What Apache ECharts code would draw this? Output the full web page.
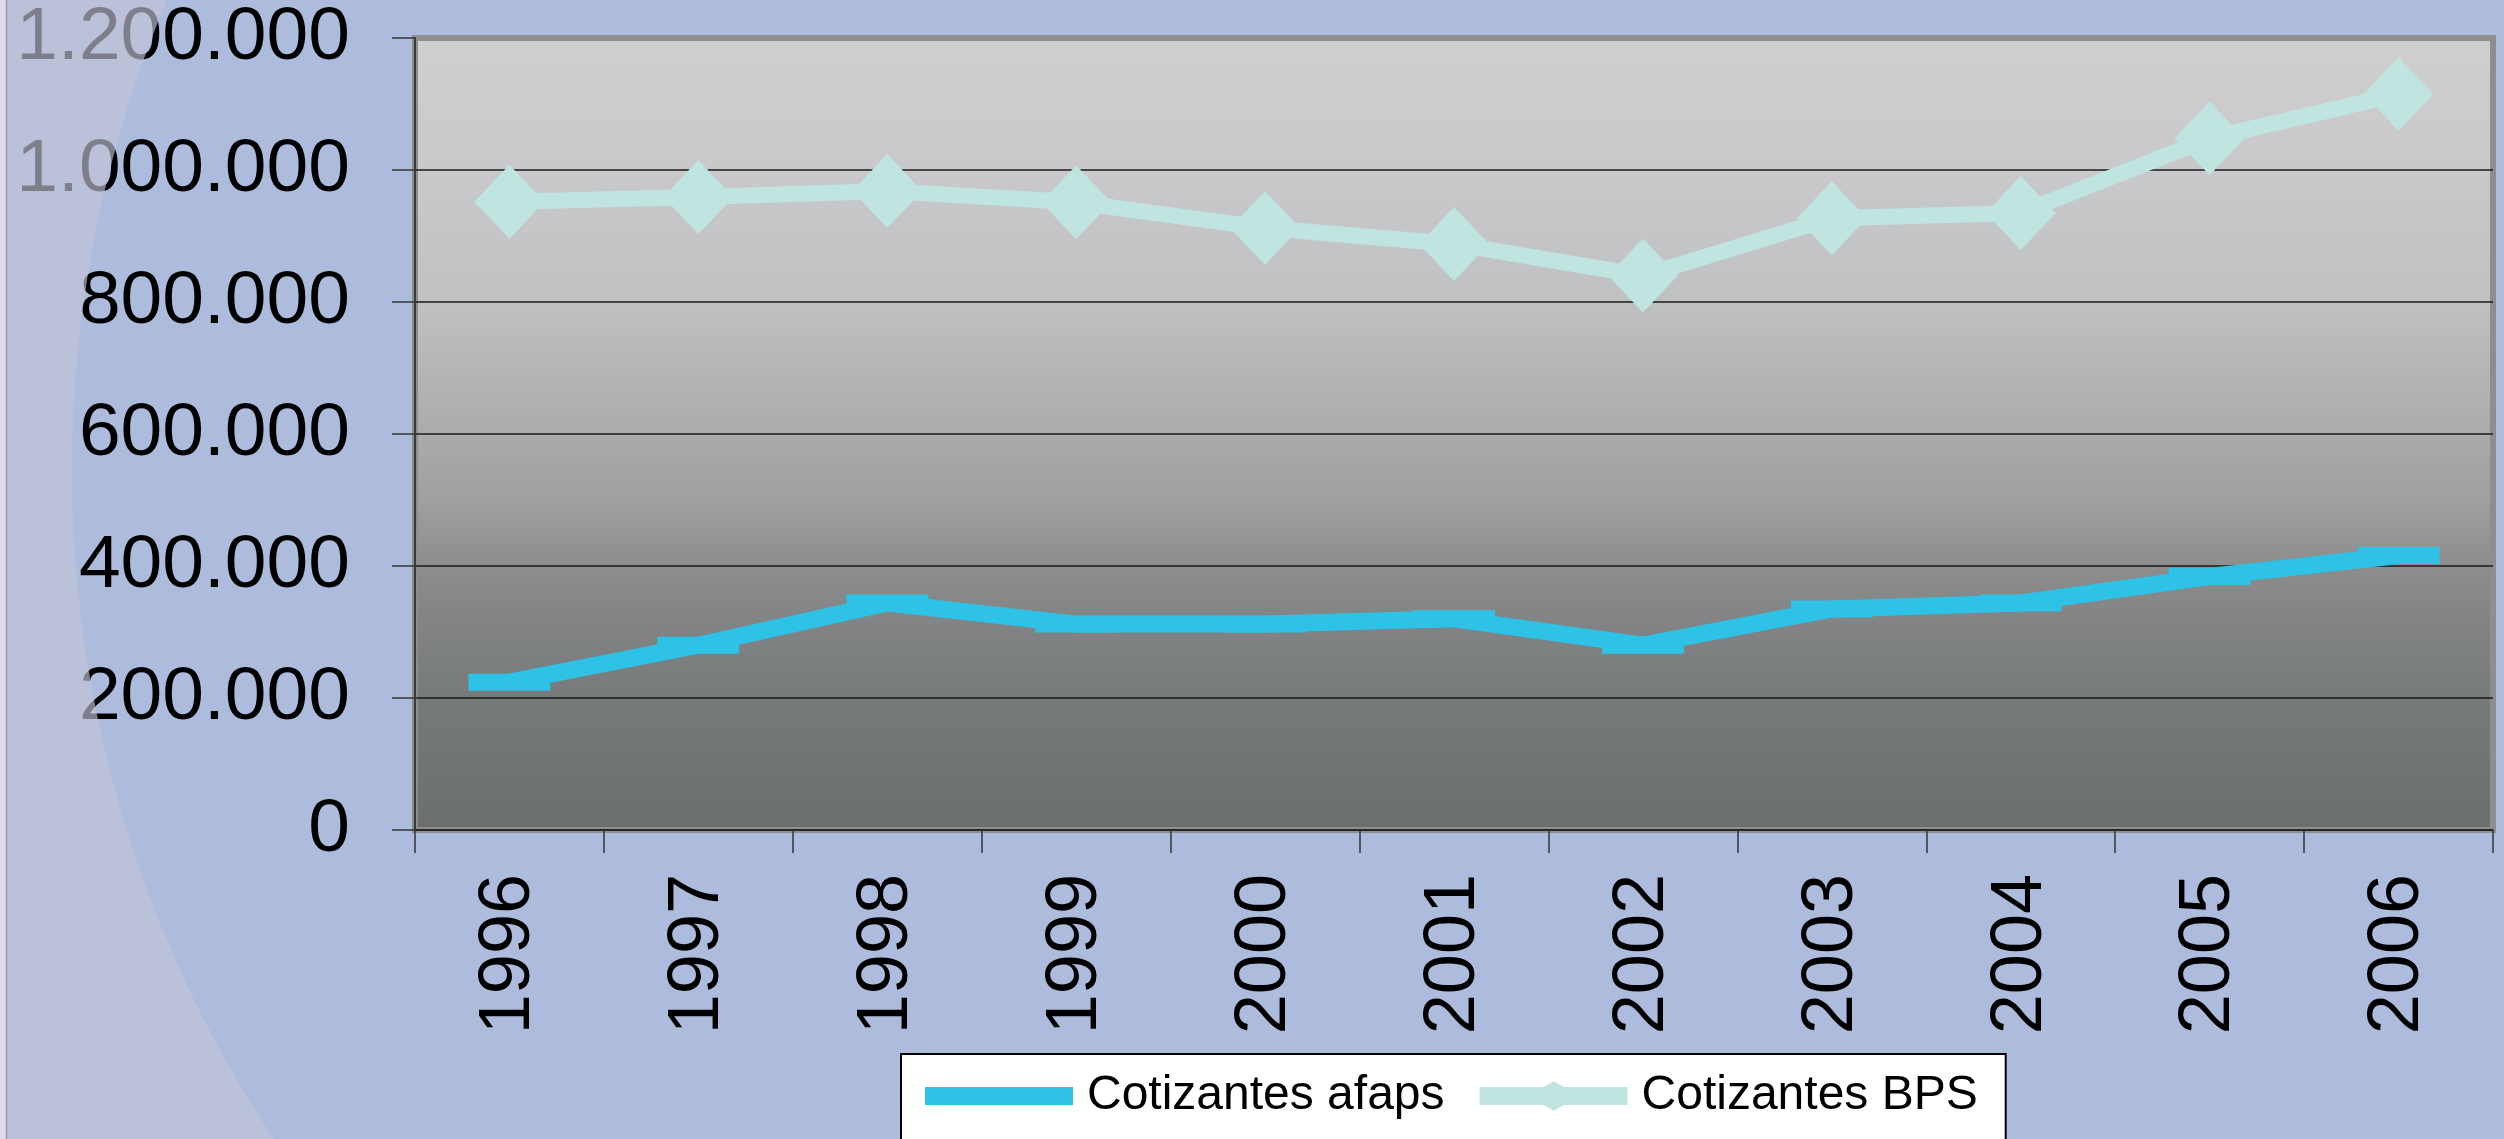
<!DOCTYPE html>
<html>
<head>
<meta charset="utf-8">
<script src="https://cdn.jsdelivr.net/npm/echarts@6/dist/echarts.min.js"></script>
<style>
  html, body { margin: 0; padding: 0; background: #adbcdd; }
  #chart { width: 2504px; height: 1139px; }
</style>
</head>
<body>
<div id="chart"></div>
<script>
// años
const years = ['1996', '1997', '1998', '1999', '2000', '2001', '2002', '2003', '2004', '2005', '2006']
// cotizantes
const cotizantesAfaps = [224000, 280000, 344000, 312000, 312000, 320000, 280000, 335000, 344000, 384000, 416000]
const cotizantesBps = [952000, 959000, 968000, 951000, 912000, 888000, 840000, 927000, 935000, 1048000, 1115000]

const fontFamily = '"Liberation Sans", Arial, sans-serif'

function miles(v) {
  return String(v).replace(/\B(?=(\d{3})+(?!\d))/g, '.')
}

// franja clara curva del fondo (borde de un circulo grande)
function franjaCurva() {
  const cx = 1282, cy = 470, r = 1210
  const pts = [[0, 0]]
  for (let y = 0; y <= 1139; y += 10) {
    pts.push([cx - Math.sqrt(r * r - (y - cy) * (y - cy)), y])
  }
  pts.push([cx - Math.sqrt(r * r - (1139 - cy) * (1139 - cy)), 1139])
  pts.push([0, 1139])
  return pts
}

const myChart = echarts.init(document.getElementById('chart'), null, { renderer: 'canvas' })

const option = {
  animation: false,
  backgroundColor: '#adbcdd',
  grid: {
    left: 415,
    right: 11,
    top: 38,
    bottom: 309,
    show: true,
    borderColor: '#8e8e8e',
    borderWidth: 6,
    backgroundColor: {
      type: 'linear', x: 0, y: 0, x2: 0, y2: 1,
      colorStops: [
        { offset: 0, color: '#cfcfcf' },
        { offset: 0.17, color: '#c9c9cb' },
        { offset: 0.33, color: '#c0c1c2' },
        { offset: 0.5, color: '#aaabac' },
        { offset: 0.58, color: '#a0a09f' },
        { offset: 0.67, color: '#8c8c8c' },
        { offset: 0.75, color: '#808283' },
        { offset: 0.83, color: '#777a7a' },
        { offset: 1, color: '#6a6e6e' }
      ]
    }
  },
  legend: {
    left: 901,
    top: 1054,
    orient: 'horizontal',
    backgroundColor: '#ffffff',
    borderColor: '#000000',
    borderWidth: 2,
    padding: [18, 28, 60, 24],
    itemWidth: 148,
    itemHeight: 30,
    itemGap: 35,
    symbolKeepAspect: true,
    textStyle: {
      color: '#000',
      fontSize: 48,
      fontFamily: fontFamily,
      padding: [0, 0, 0, 9]
    },
    data: [
      { name: 'Cotizantes afaps', icon: 'path://M0,6H148V24H0Z' },
      { name: 'Cotizantes BPS', icon: 'path://M0,6H64L74,0L84,6H148V24H84L74,30L64,24H0Z' }
    ]
  },
  xAxis: {
    type: 'category',
    data: years,
    boundaryGap: true,
    axisLine: { show: true, lineStyle: { color: '#222', width: 1.5 } },
    axisTick: { show: true, inside: false, length: 23, lineStyle: { color: '#333', width: 1.5 } },
    axisLabel: {
      rotate: 90,
      margin: 44,
      color: '#000',
      fontSize: 72,
      fontFamily: fontFamily
    },
    splitLine: { show: false }
  },
  yAxis: {
    type: 'value',
    min: 0,
    max: 1200000,
    interval: 200000,
    axisLine: { show: true, lineStyle: { color: '#3a3a3a', width: 2 } },
    axisTick: { show: true, inside: false, length: 23, lineStyle: { color: '#333', width: 1.5 } },
    axisLabel: {
      margin: 65,
      color: '#000',
      fontSize: 75,
      fontFamily: fontFamily,
      formatter: miles
    },
    splitLine: { show: true, showMaxLine: false, lineStyle: { color: '#1a1a1a', width: 1.5 } }
  },
  series: [
    {
      name: 'Cotizantes afaps',
      type: 'line',
      data: cotizantesAfaps,
      symbol: 'rect',
      symbolSize: [82, 17],
      lineStyle: { color: '#2ec2e6', width: 17 },
      itemStyle: { color: '#2ec2e6' },
      z: 3
    },
    {
      name: 'Cotizantes BPS',
      type: 'line',
      data: cotizantesBps,
      symbol: 'diamond',
      symbolSize: [70, 74],
      lineStyle: { color: '#c0e4e0', width: 16 },
      itemStyle: { color: '#c0e4e0' },
      z: 3
    }
  ],
  graphic: [
    {
      type: 'polygon',
      z: 100,
      silent: true,
      shape: { points: franjaCurva() },
      style: { fill: 'rgba(195,195,215,0.65)' }
    },
    {
      type: 'rect',
      z: 101,
      silent: true,
      shape: { x: 0, y: 0, width: 6, height: 1139 },
      style: { fill: '#dddbec' }
    },
    {
      type: 'line',
      z: 101,
      silent: true,
      shape: { x1: 6.5, y1: 0, x2: 6.5, y2: 1139 },
      style: { stroke: '#9a9ab4', lineWidth: 1.5 }
    }
  ]
}

myChart.setOption(option)
</script>
</body>
</html>
